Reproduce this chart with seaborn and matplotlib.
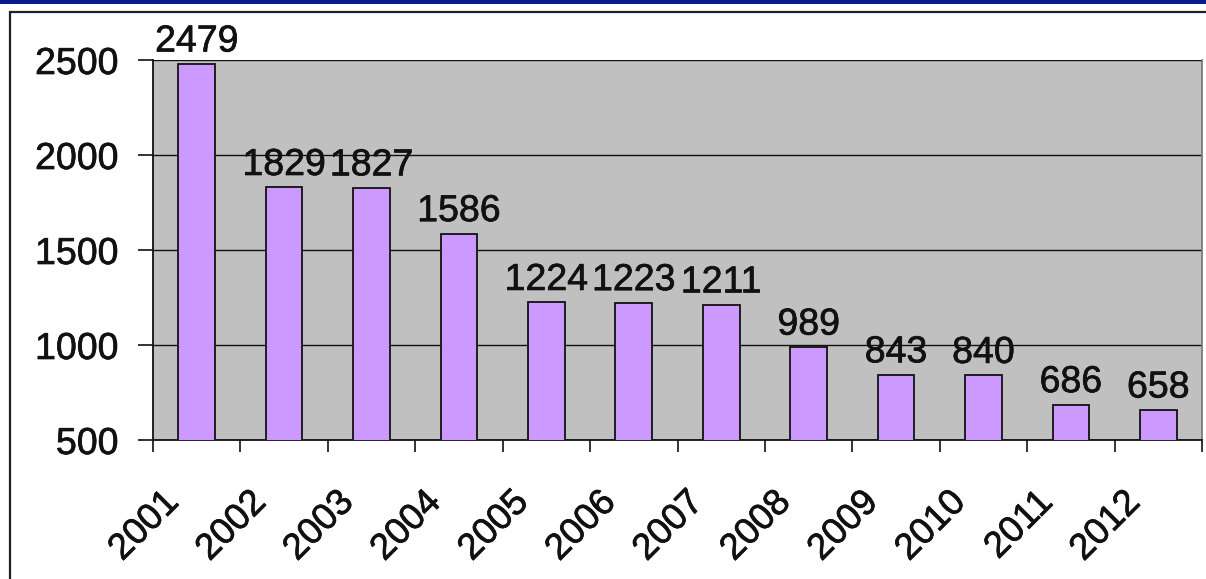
import matplotlib
matplotlib.use("Agg")
import matplotlib.pyplot as plt
import matplotlib.patches as mpatches
import matplotlib.patheffects as pe
import matplotlib.transforms as mtransforms
import seaborn as sns
import pandas as pd

years = ["2001", "2002", "2003", "2004", "2005", "2006",
         "2007", "2008", "2009", "2010", "2011", "2012"]
counts = [2479, 1829, 1827, 1586, 1224, 1223, 1211, 989, 843, 840, 686, 658]
y_ticks = [500, 1000, 1500, 2000, 2500]

sns.set_theme(style="white")
plt.rcParams["font.family"] = ["Liberation Sans", "DejaVu Sans"]

df = pd.DataFrame({"year": years, "count": counts})
ink = "#111111"
heavy = [pe.withStroke(linewidth=0.5, foreground=ink)]

fig = plt.figure(figsize=(12.06, 5.79), dpi=100)
fig.patch.set_facecolor("white")

# navy strip along the top edge and the framed panel below it
fig.add_artist(mpatches.Rectangle((0, 1 - 4 / 579), 1, 4 / 579, transform=fig.transFigure,
                                  facecolor="#0a1a8c", edgecolor="none", zorder=-10))
fig.add_artist(mpatches.Rectangle((10 / 1206, -0.05), 1.1, 1 - 12 / 579 + 0.05,
                                  transform=fig.transFigure, facecolor="white",
                                  edgecolor="#222222", linewidth=1.6, zorder=-10))

ax = fig.add_axes([153 / 1206, 1 - 440 / 579, (1202 - 153) / 1206, (440 - 60) / 579])
ax.set_facecolor("#c0c0c0")

sns.barplot(data=df, x="year", y="count", ax=ax, color="#cc99ff",
            edgecolor=ink, linewidth=1.3, width=0.42, saturation=1, zorder=3)

ax.set_ylim(500, 2500)
ax.set_xlim(-0.5, len(years) - 0.5)
ax.set_yticks(y_ticks)
ax.yaxis.grid(True, color=ink, linewidth=1.0, zorder=1)
ax.set_axisbelow(True)

# value labels above each bar
for i, v in enumerate(counts):
    ax.annotate(str(v), (i, v), xytext=(0, 9), textcoords="offset points",
                ha="center", va="baseline", fontsize=27, color=ink, path_effects=heavy)

# category ticks sit on the boundaries between years
ax.set_xticks([i - 0.5 for i in range(len(years) + 1)])
ax.set_xticklabels([])
ax.tick_params(axis="x", direction="out", length=8.6, width=1.2, color=ink, bottom=True)

# slanted year labels, hung below the axis and nudged left of each category centre
label_tf = ax.get_xaxis_transform() + mtransforms.ScaledTranslation(-36 / 100, -45 / 100,
                                                                    fig.dpi_scale_trans)
for i, yr in enumerate(years):
    ax.text(i, 0, yr, transform=label_tf, rotation=45, rotation_mode="anchor",
            ha="right", va="top", fontsize=26.5, color=ink, path_effects=heavy, clip_on=False)

ax.tick_params(axis="y", direction="out", length=10.8, width=1.2, color=ink,
               left=True, labelsize=27, pad=14, labelcolor=ink)
for lab in ax.get_yticklabels():
    lab.set_path_effects(heavy)

ax.set_xlabel("")
ax.set_ylabel("")
ax.spines["top"].set_visible(False)
ax.spines["left"].set_color(ink)
ax.spines["bottom"].set_color(ink)
ax.spines["right"].set_color("#777777")
for s in ["left", "bottom"]:
    ax.spines[s].set_linewidth(1.3)

fig.savefig("out.png", dpi=100)
